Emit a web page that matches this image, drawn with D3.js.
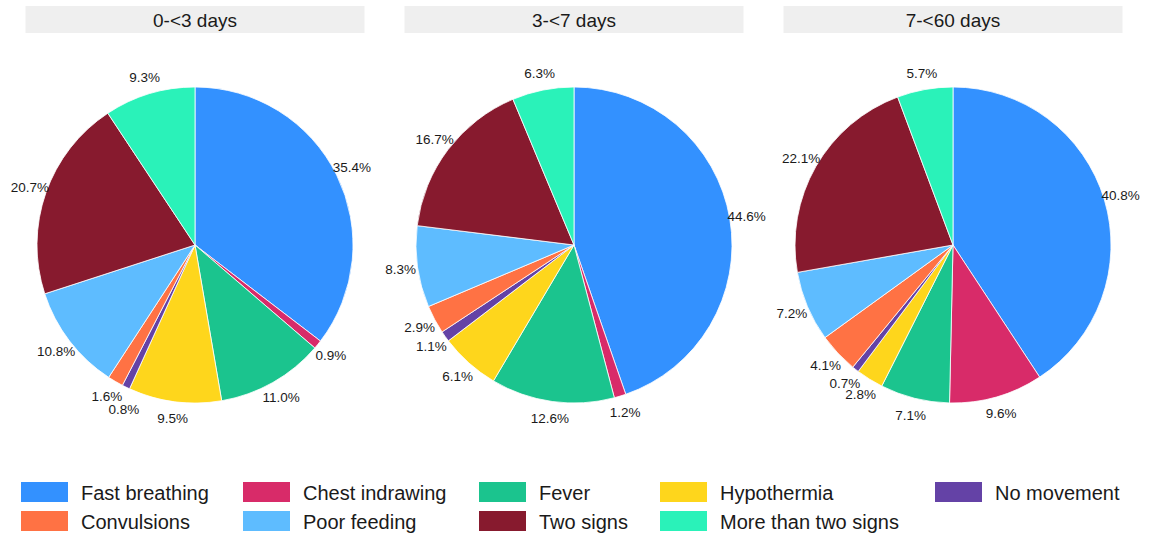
<!DOCTYPE html>
<html>
<head>
<meta charset="utf-8">
<script src="https://cdn.jsdelivr.net/npm/d3@7"></script>
<style>
  body { margin: 0; background: #fff; }
  svg { font-family: "Liberation Sans", Arial, sans-serif; }
</style>
</head>
<body>
<svg id="chart" width="1157" height="534"></svg>
<script>
// categories in clockwise order from 12 o'clock
const categories = ["Fast breathing", "Chest indrawing", "Fever", "Hypothermia", "No movement",
  "Convulsions", "Poor feeding", "Two signs", "More than two signs"];
const colors = ["#3391ff", "#d82b69", "#1bc48e", "#fed61c", "#6442a6",
  "#ff7244", "#5ebcff", "#871a2e", "#2af2b9"];
const panels = ["0-<3 days", "3-<7 days", "7-<60 days"];
const pct0to3 = [35.4, 0.9, 11.0, 9.5, 0.8, 1.6, 10.8, 20.7, 9.3];
const pct3to7 = [44.6, 1.2, 12.6, 6.1, 1.1, 2.9, 8.3, 16.7, 6.3];
const pct7to60 = [40.8, 9.6, 7.1, 2.8, 0.7, 4.1, 7.2, 22.1, 5.7];
const series = [pct0to3, pct3to7, pct7to60];

// legend layout: column order as drawn
const legendOrder = [
  ["Fast breathing", "Convulsions"],
  ["Chest indrawing", "Poor feeding"],
  ["Fever", "Two signs"],
  ["Hypothermia", "More than two signs"],
  ["No movement"]
];

const svg = d3.select("#chart");
const color = d3.scaleOrdinal().domain(categories).range(colors);

const panelX = d3.scaleBand().domain(panels).range([5.5, 1142.5]);
const radius = 158, labelR = 175, cy = 245;

const pie = d3.pie().sort(null).value(d => d.v);
const arc = d3.arc().innerRadius(0).outerRadius(radius);

panels.forEach((p, pi) => {
  const x0 = panelX(p), w = panelX.bandwidth(), cx = x0 + w / 2;
  const g = svg.append("g");

  g.append("rect")
    .attr("x", x0 + 20).attr("y", 6)
    .attr("width", w - 40).attr("height", 27)
    .attr("fill", "#efefef");
  g.append("text")
    .attr("x", cx).attr("y", 20)
    .attr("dy", "0.36em")
    .attr("text-anchor", "middle")
    .attr("font-size", 19)
    .attr("fill", "#1a1a1a")
    .text(p);

  const data = categories.map((c, i) => ({ c, v: series[pi][i] }));
  const arcs = pie(data);
  const pg = g.append("g").attr("transform", `translate(${cx},${cy})`);

  pg.selectAll("path")
    .data(arcs)
    .enter().append("path")
    .attr("d", arc)
    .attr("fill", d => color(d.data.c))
    .attr("stroke", "#fff")
    .attr("stroke-width", 0.8);

  // label positions, smaller slice's label pushed out if two collide
  const pos = arcs.map(d => {
    const a = (d.startAngle + d.endAngle) / 2;
    return { x: labelR * Math.sin(a), y: -labelR * Math.cos(a), d };
  });
  for (let i = 1; i < pos.length; i++) {
    const a = pos[i - 1], b = pos[i];
    if (Math.abs(a.x - b.x) < 36 && Math.abs(a.y - b.y) < 9) {
      const [small, big] = a.d.value < b.d.value ? [a, b] : [b, a];
      small.y = big.y + 13;
      small.x = big.x + 17;
    }
  }

  pg.selectAll("text.lab")
    .data(pos)
    .enter().append("text")
    .attr("class", "lab")
    .attr("x", d => d.x).attr("y", d => d.y)
    .attr("dy", "0.36em")
    .attr("text-anchor", "middle")
    .attr("font-size", 13.5)
    .attr("fill", "#1a1a1a")
    .text(d => d.d.data.v.toFixed(1) + "%");
});

// legend
const colX = [21, 243, 479, 660, 935];
const rowY = [482, 511];
legendOrder.forEach((col, ci) => {
  col.forEach((c, ri) => {
    const lg = svg.append("g").attr("transform", `translate(${colX[ci]},${rowY[ri]})`);
    lg.append("rect")
      .attr("width", 47).attr("height", 20)
      .attr("fill", color(c));
    lg.append("text")
      .attr("x", 60).attr("y", 10.5)
      .attr("dy", "0.36em")
      .attr("font-size", 20)
      .attr("fill", "#1a1a1a")
      .text(c);
  });
});
</script>
</body>
</html>
